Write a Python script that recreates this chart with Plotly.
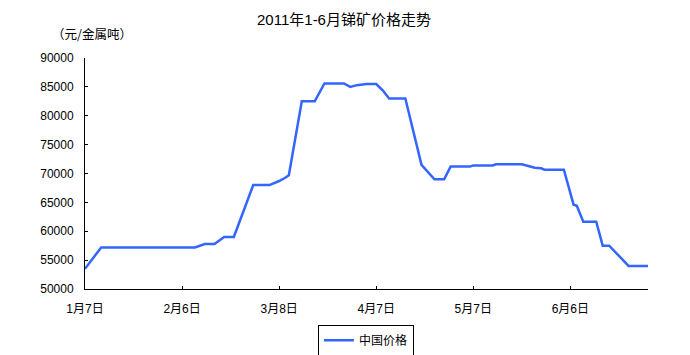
import plotly.graph_objects as go

dates = [
    "2011-01-07", "2011-01-12", "2011-02-10", "2011-02-13", "2011-02-16",
    "2011-02-19", "2011-02-22", "2011-02-28", "2011-03-05", "2011-03-06",
    "2011-03-08", "2011-03-10", "2011-03-11", "2011-03-15", "2011-03-19",
    "2011-03-22", "2011-03-28", "2011-03-30", "2011-04-01", "2011-04-04",
    "2011-04-07", "2011-04-09", "2011-04-11", "2011-04-16", "2011-04-21",
    "2011-04-25", "2011-04-28", "2011-04-30", "2011-05-06", "2011-05-07",
    "2011-05-13", "2011-05-14", "2011-05-22", "2011-05-24", "2011-05-26",
    "2011-05-28", "2011-05-29", "2011-06-04", "2011-06-07", "2011-06-08",
    "2011-06-10", "2011-06-14", "2011-06-16", "2011-06-18", "2011-06-24",
    "2011-06-30",
]
prices = [
    53500, 57200, 57200, 57800, 57800,
    59000, 59000, 68000, 68000, 68200,
    68700, 69300, 69700, 82500, 82500,
    85600, 85600, 85000, 85300, 85500,
    85500, 84400, 83000, 83000, 71500,
    69000, 69000, 71200, 71200, 71400,
    71400, 71600, 71600, 71300, 71000,
    70900, 70650, 70650, 64600, 64400,
    61650, 61650, 57500, 57500, 54000,
    54000,
]

tick_dates = ["2011-01-07", "2011-02-06", "2011-03-08", "2011-04-07", "2011-05-07", "2011-06-06"]
tick_labels = ["1月7日", "2月6日", "3月8日", "4月7日", "5月7日", "6月6日"]
y_ticks = [50000, 55000, 60000, 65000, 70000, 75000, 80000, 85000, 90000]
y_tick_labels = ["50000", "55000", "60000", "65000", "70000", "75000", "80000", "85000", "90000"]

title_text = "2011年1-6月锑矿价格走势"
unit_text = "（元/金属吨）"
series_name = "中国价格"

FONT = "Liberation Sans, Noto Sans CJK SC, sans-serif"
CJK = "Noto Sans CJK SC, sans-serif"

fig = go.Figure()
fig.add_trace(go.Scatter(
    x=dates, y=prices, mode="lines", name=series_name,
    line=dict(color="#3366FF", width=2.5),
))

fig.update_layout(
    width=690, height=355,
    margin=dict(l=85, r=42, t=58, b=66, autoexpand=False),
    paper_bgcolor="white", plot_bgcolor="white",
    font=dict(family=FONT, size=12, color="black"),
    title=dict(text=title_text, x=344/690, xanchor="center",
               y=1 - 20/355, yanchor="middle",
               font=dict(family=FONT, size=15, color="black")),
    showlegend=True,
    legend=dict(x=0.499, xanchor="center", y=-0.155, yanchor="top",
                orientation="h", bordercolor="black", borderwidth=1,
                bgcolor="white", font=dict(size=12), itemwidth=30),
    xaxis=dict(
        type="date", range=["2011-01-07", "2011-06-30"],
        tickvals=tick_dates, ticktext=tick_labels,
        showline=True, linecolor="black", linewidth=1,
        ticks="inside", ticklen=3, tickcolor="black",
        showgrid=False, zeroline=False, tickangle=0,
        tickfont=dict(size=12), ticklabelstandoff=9,
    ),
    yaxis=dict(
        range=[50000, 90000], tickvals=y_ticks, ticktext=y_tick_labels,
        showline=True, linecolor="black", linewidth=1,
        ticks="inside", ticklen=3, tickcolor="black",
        showgrid=False, zeroline=False,
        tickfont=dict(size=12), ticklabelstandoff=8,
    ),
    annotations=[dict(
        text=unit_text, xref="paper", yref="paper",
        x=-0.062, xanchor="left", y=(289 - 33) / 231, yanchor="middle",
        showarrow=False, font=dict(family=CJK, size=12.5),
    )],
)

fig.write_html("out.html")
